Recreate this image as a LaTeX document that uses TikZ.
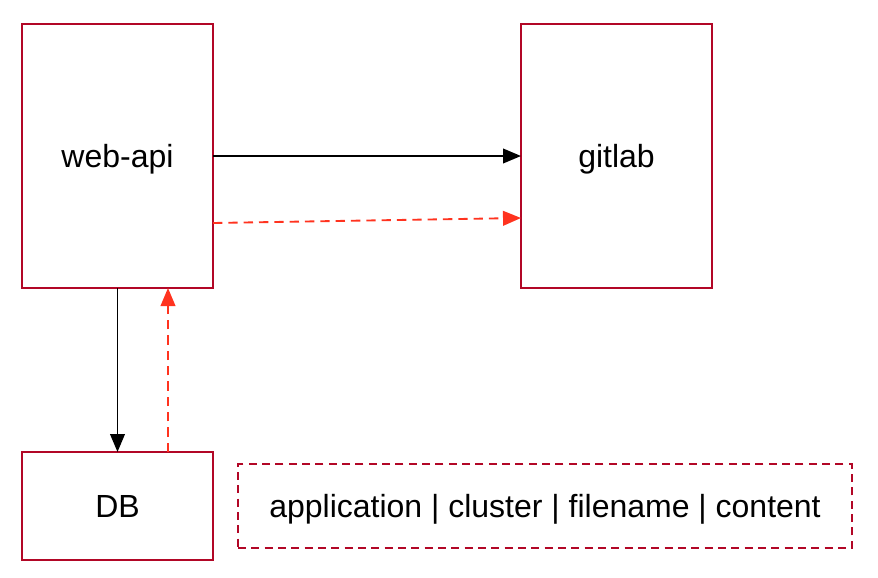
\documentclass[tikz,border=0pt]{standalone}
\usepackage{fontspec}
\setmainfont{Liberation Sans}
\usetikzlibrary{arrows.meta,calc}
\definecolor{boxred}{RGB}{178,7,38}
\definecolor{flowred}{RGB}{255,51,31}
\begin{document}
\begin{tikzpicture}[x=0.75pt,y=0.75pt,yscale=-1,xscale=1,
  svcbox/.style={draw=boxred,line width=1.5pt,fill=white,inner sep=0pt,outer sep=0pt,text height=17pt,text depth=0pt,font=\fontsize{24pt}{28pt}\selectfont},
  callarrow/.style={line width=1.4pt,-{Triangle[length=13.5pt,width=11pt]}},
  replyarrow/.style={flowred,line width=1.4pt,dash pattern=on 7pt off 4.5pt,-{Triangle[length=13.5pt,width=11pt]}}]
\useasboundingbox (0,0) rectangle (878,578);

% Shape: Rectangle web-api
\node (webapi) [svcbox,minimum width=143.25pt,minimum height=198pt] at (117.5,156) {web-api};
% Shape: Rectangle gitlab
\node (gitlab) [svcbox,minimum width=143.25pt,minimum height=198pt] at (616.5,156) {gitlab};
% Shape: Rectangle DB
\node (db) [svcbox,minimum width=143.25pt,minimum height=81pt] at (117.5,506) {DB};
% Shape: Dashed Rectangle columns
\node (cols) [svcbox,dash pattern=on 6pt off 4pt,minimum width=460.5pt,minimum height=63pt] at (545,506) {application | cluster | filename | content};

% Straight Lines
\draw [callarrow] (webapi.east) -- (gitlab.west);
\draw [replyarrow] ($(webapi.east)+(0,67)$) -- ($(gitlab.west)+(0,62)$);
\draw [callarrow] (webapi.south) -- (db.north);
\draw [replyarrow] ($(db.north)+(50.5,0)$) -- ($(webapi.south)+(50.5,0)$);

\end{tikzpicture}
\end{document}
